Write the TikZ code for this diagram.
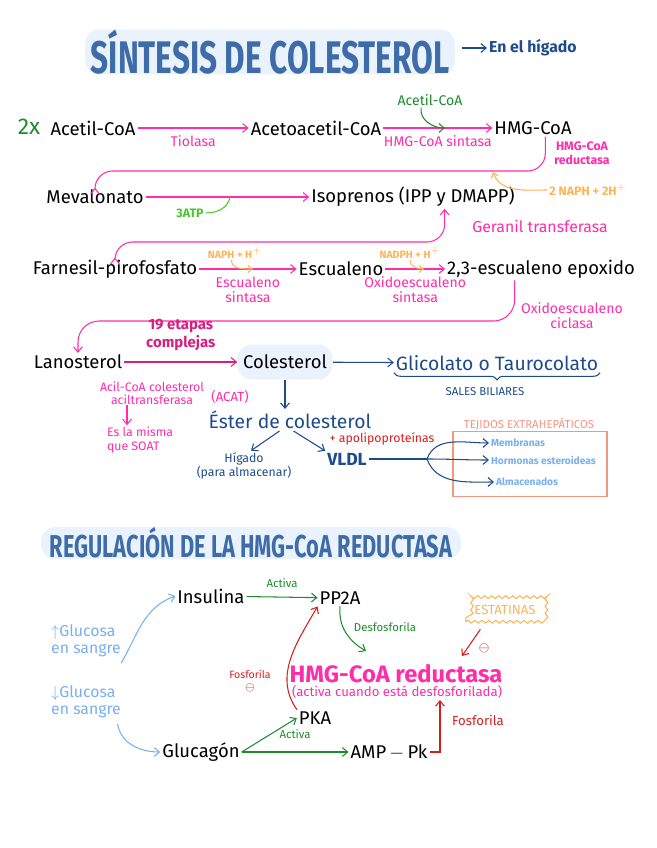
\documentclass[tikz,border=0pt]{standalone}
\usepackage{fontspec}
\setmainfont{Fira Sans}
\usepackage{graphicx}
\usepackage{tikz}
\usetikzlibrary{arrows.meta,positioning,calc,decorations.pathmorphing,decorations.pathreplacing}
\definecolor{tituloazul}{RGB}{62,108,168}
\definecolor{fondoazul}{RGB}{234,243,253}
\definecolor{rosa}{RGB}{255,45,170}
\definecolor{rosaosc}{RGB}{215,30,130}
\definecolor{verde}{RGB}{30,140,45}
\definecolor{verdeclaro}{RGB}{70,200,40}
\definecolor{naranja}{RGB}{250,180,90}
\definecolor{azulosc}{RGB}{30,75,140}
\definecolor{celeste}{RGB}{120,175,240}
\definecolor{rojo}{RGB}{215,30,30}
\definecolor{salmon}{RGB}{245,150,130}

\begin{document}
\begin{tikzpicture}[
  x=0.02cm, y=-0.02cm,
  font=\fontsize{10.5}{12}\selectfont,
  chem/.style={inner sep=1pt, text=black},
  enz/.style={text=rosa, font=\fontsize{8}{8.5}\selectfont, align=center, inner sep=1pt},
  cof/.style={text=naranja, font=\fontsize{6}{7}\selectfont\bfseries, inner sep=1pt},
  azul/.style={text=azulosc, inner sep=1pt},
  tejido/.style={text=celeste, font=\fontsize{5.8}{6.5}\selectfont\bfseries, anchor=west, inner sep=1pt},
  titlebox/.style={fill=fondoazul, rounded corners=8pt, text=tituloazul, inner sep=0pt},
  rxn/.style={draw=rosa, semithick, -{Straight Barb[length=3pt,width=5pt]}},
  cofflow/.style={draw=naranja, semithick, -{Straight Barb[length=2.5pt,width=4pt]}},
  blueflow/.style={draw=azulosc, semithick, -{Straight Barb[length=3pt,width=5pt]}},
  act/.style={draw=verde, semithick, -{Straight Barb[length=3pt,width=5pt]}},
  inh/.style={draw=rojo, semithick, -{Straight Barb[length=3pt,width=5pt]}},
  gluc/.style={draw=celeste, semithick, -{Straight Barb[length=3pt,width=5pt]}}
]
\useasboundingbox (0,0) rectangle (656,848);
\node[titlebox, minimum width=7.4cm, minimum height=0.9cm, font=\fontsize{26}{28}\selectfont\bfseries] (titulo) at (270,52) {\scalebox{0.69}[1]{SÍNTESIS DE COLESTEROL}};
\node[azul, anchor=west, font=\fontsize{9}{10}\selectfont\bfseries] (lugar) at (487,48) {En el hígado};
\draw[blueflow, shorten <=4pt] (titulo.east |- lugar.west) -- (lugar.west);

\node[chem, text=verde, font=\fontsize{13}{14}\selectfont] (dosx) at (29,127) {2x};
\node[chem] (acetil) at (93,128) {Acetil-CoA};
\node[chem] (acetoac) at (316,128) {Acetoacetil-CoA};
\node[chem] (hmg) at (533,128) {HMG-CoA};
\draw[rxn] (acetil) -- node[enz, below=3pt] {Tiolasa} (acetoac);
\draw[rxn] (acetoac) -- node[enz, below=3pt] {HMG-CoA sintasa} (hmg);
\node[chem, text=verde, font=\fontsize{8}{9}\selectfont] (acetil2) at (430,100) {Acetil-CoA};
\coordinate (e1) at (445,128);
\draw[act] ([xshift=-5pt]acetil2.south) to[out=-100,in=180] (e1);
\node[enz, font=\fontsize{7}{8}\selectfont\bfseries] (reduc1) at (582,153) {HMG-CoA\\reductasa};

\node[chem] (meva) at (95,197) {Mevalonato};
\node[chem] (isop) at (413,197) {Isoprenos (IPP y DMAPP)};
\draw[rxn] (meva) -- (isop);
\coordinate (c1) at (300,171);
\draw[rxn, rounded corners=10pt] ([xshift=7pt]hmg.south) |- (c1) -| (meva.north);
\node[cof, font=\fontsize{7}{8}\selectfont\bfseries] (nadph1) at (588,190) {2 NAPH + 2H$^{+}$};
\coordinate (e2) at (493,172);
\draw[cofflow] (nadph1.west) to[out=180,in=-70] (e2);
\node[cof, text=verdeclaro, font=\fontsize{7}{8}\selectfont\bfseries] (atp) at (190,213) {3ATP};
\coordinate (e3) at (230,197);
\draw[draw=verdeclaro, semithick] (atp.east) to[out=0,in=-100] (e3);
\node[enz, font=\fontsize{9}{10}\selectfont] (geranil) at (540,226) {Geranil transferasa};

\node[chem] (farn) at (115,269) {Farnesil-pirofosfato};
\node[chem] (escu) at (341,269) {Escualeno};
\node[chem] (epox) at (541,269) {2,3-escualeno epoxido};
\coordinate (c2) at (300,242);
\draw[rxn, {Straight Barb[length=3pt,width=5pt]}-{Straight Barb[length=3pt,width=5pt]}, rounded corners=10pt] ([xshift=18pt]isop.south) |- (c2) -| (farn.north);
\draw[rxn] (farn) -- node[enz, below=3pt] {Escualeno\\sintasa} (escu);
\draw[rxn] (escu) -- node[enz, below=3pt] {Oxidoescualeno\\sintasa} (epox);
\node[cof] (nadph2) at (235,253) {NAPH + H$^{+}$};
\node[cof] (nadph3) at (410,253) {NADPH + H$^{+}$};
\coordinate (e4) at (253,269);
\coordinate (e5) at (424,269);
\draw[cofflow] ([xshift=-2pt]nadph2.south) to[out=-90,in=180] (e4);
\draw[cofflow] (nadph3.south) to[out=-90,in=180] (e5);
\node[enz] (ciclasa) at (572,316) {Oxidoescualeno\\ciclasa};

\node[chem] (lano) at (78,362) {Lanosterol};
\node[chem, fill=fondoazul, rounded corners=8pt, minimum width=1.9cm, minimum height=0.7cm] (col) at (285,362) {Colesterol};
\coordinate (c3) at (300,321);
\draw[rxn, rounded corners=12pt] ([xshift=-15pt]epox.south) |- (c3) -| (lano.north);
\draw[rxn, draw=rosaosc] (lano) -- node[above=3pt, text=rosaosc, font=\fontsize{8.5}{8.5}\selectfont\bfseries, align=center] {19 etapas\\complejas} (col);
\node[azul, font=\fontsize{11}{12}\selectfont] (glic) at (497,363) {Glicolato o Taurocolato};
\draw[blueflow] (col) -- (glic);
\draw[azulosc, semithick, decorate, decoration={brace, mirror, amplitude=4pt}] (glic.south west) -- (glic.south east);
\node[azul, font=\fontsize{6.5}{7}\selectfont] (sales) at (485,392) {SALES BILIARES};

\node[azul, font=\fontsize{11}{12}\selectfont] (ester) at (290,420) {Éster de colesterol};
\draw[blueflow] (col.south) -- (col.south |- ester.north);
\node[enz, font=\fontsize{7}{7.5}\selectfont] (acat) at (152,393) {Acil-CoA colesterol\\aciltransferasa};
\node[enz, font=\fontsize{7.5}{8}\selectfont] (acatsig) at (230,397) {(ACAT)};
\node[enz, font=\fontsize{7}{7.5}\selectfont, align=left] (soat) at (140,440) {Es la misma\\que SOAT};
\coordinate (s1) at (127,405);
\draw[rxn] (s1) -- (s1 |- soat.north);

\node[azul, font=\fontsize{7}{8}\selectfont, align=center] (higado) at (244,466) {Hígado\\(para almacenar)};
\node[azul, font=\fontsize{10}{11}\selectfont\bfseries] (vldl) at (347,459) {VLDL};
\node[text=rojo, font=\fontsize{7}{8}\selectfont, inner sep=1pt] (apo) at (382,439) {+ apolipoproteínas};
\draw[blueflow] ([xshift=-6pt]ester.south) -- ([xshift=4pt]higado.north);
\draw[blueflow] ([xshift=2pt]ester.south) -- (vldl.north west);

\node[draw=salmon, thick, minimum width=3.08cm, minimum height=1.3cm] (tejidos) at (530,464) {};
\node[text=salmon, font=\fontsize{6.5}{7}\selectfont] (tejlab) at (529,424) {TEJIDOS EXTRAHEPÁTICOS};
\node[tejido] (membr) at (489,443) {Membranas};
\node[tejido] (horm) at (489,460) {Hormonas esteroideas};
\node[tejido] (almac) at (494,482) {Almacenados};
\coordinate (split) at (427,459);
\draw[azulosc, semithick] (vldl.east) -- (split);
\foreach \dest/\ang in {membr/70, horm/0, almac/-70} {
  \draw[blueflow] (split) to[out=\ang, in=180] (\dest.west);
}

\node[titlebox, minimum width=8.4cm, minimum height=0.64cm, font=\fontsize{18}{20}\selectfont\bfseries] (titulo2) at (251,543) {\scalebox{0.69}[1]{REGULACIÓN DE LA HMG-CoA REDUCTASA}};

\node[chem] (insul) at (211,596) {Insulina};
\node[chem] (pp2a) at (340,598) {PP2A};
\node[chem] (glucagon) at (201,752) {Glucagón};
\node[chem] (pka) at (315,718) {PKA};
\node[chem] (ampk) at (389,752) {AMP$\,-\,$Pk};
\draw[act] (insul) -- node[above=2pt, text=verde, font=\fontsize{6.5}{7}\selectfont] {Activa} (pp2a);
\node[text=celeste, font=\fontsize{9}{9.5}\selectfont, align=left] (gluup) at (86,641) {$\uparrow$Glucosa\\en sangre};
\node[text=celeste, font=\fontsize{9}{9.5}\selectfont, align=left] (gludown) at (86,702) {$\downarrow$Glucosa\\en sangre};
\draw[gluc] ([xshift=20pt]gluup.south) to[out=60,in=200] (insul.west);
\draw[gluc] ([xshift=18pt]gludown.south) to[out=-80,in=180] (glucagon.west);
\draw[act] (glucagon.east) -- (pka.west);
\draw[act] (glucagon.east) -- node[above=4pt, text=verde, font=\fontsize{6.5}{7}\selectfont] {Activa} (ampk.west);

\node[text=rosa, font=\fontsize{13.5}{14}\selectfont\bfseries, inner sep=1pt] (reduct) at (396,674) {HMG-CoA reductasa};
\node[text=rosa, font=\fontsize{7.5}{8}\selectfont, inner sep=1pt] (reductnota) at (397,692) {(activa cuando está desfosforilada)};
\coordinate (f1) at (440,700);
\draw[inh] (ampk.east) -| (f1);
\node[text=rojo, font=\fontsize{7.5}{8}\selectfont] (fosf1) at (478,720) {Fosforila};
\draw[inh] (pka.north west) to[out=125,in=240] (pp2a.south west);
\node[text=rojo, font=\fontsize{6}{6.5}\selectfont, align=center, inner sep=1pt] (fosf2) at (250,681) {Fosforila\\$\ominus$};
\coordinate (e6) at (366,651);
\draw[act] (pp2a.south) to[out=-95,in=150] (e6);
\node[text=verde, font=\fontsize{6.5}{7}\selectfont] (desf) at (385,627) {Desfosforila};
\node[draw=naranja, semithick, text=naranja, font=\fontsize{7.5}{8}\selectfont, decorate, decoration={snake, segment length=4pt, amplitude=0.8pt}, inner xsep=5pt, inner ysep=4pt] (estat) at (505,610) {ESTATINAS};
\coordinate (e7) at (462,656);
\draw[inh] ([xshift=-14pt,yshift=-4pt]estat.south) -- (e7);
\node[text=rojo, font=\fontsize{7}{8}\selectfont] (menos) at (484,648) {$\ominus$};
\end{tikzpicture}
\end{document}
